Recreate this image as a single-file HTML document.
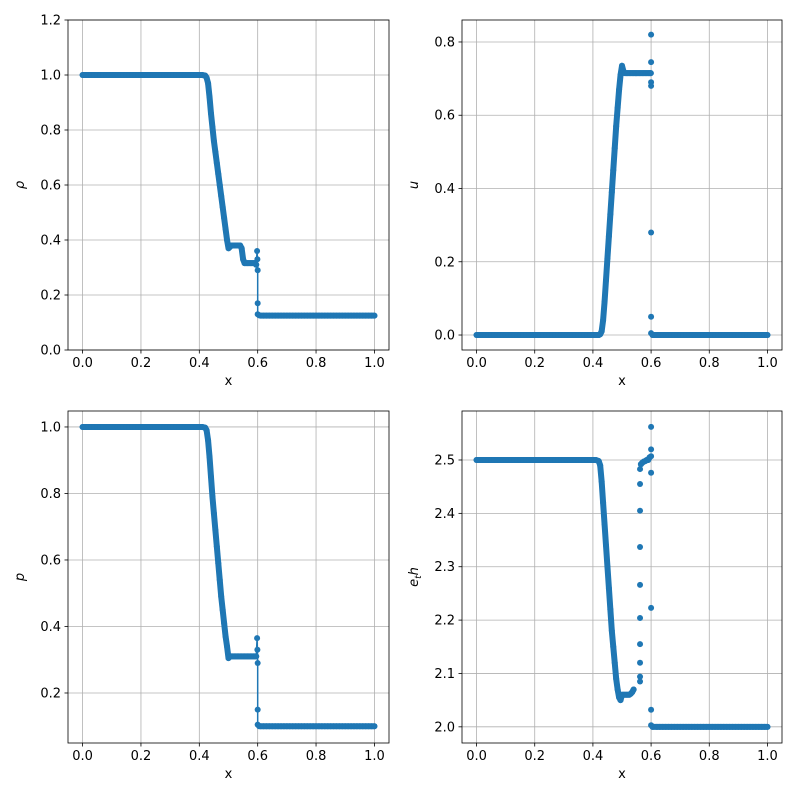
<!DOCTYPE html>
<html><head><meta charset="utf-8">
<style>
body{margin:0;background:#fff;}
svg text{font-family:"DejaVu Sans","Liberation Sans",sans-serif;font-size:13px;fill:#000;}
</style></head>
<body>
<svg id="fig" width="800" height="800" xmlns="http://www.w3.org/2000/svg"></svg>
<script>
// ---- data ----
const rhoX=[0,0.01,0.02,0.03,0.04,0.05,0.06,0.07,0.08,0.09,0.1,0.11,0.12,0.13,0.14,0.15,0.16,0.17,0.18,0.19,0.2,0.21,0.22,0.23,0.24,0.25,0.26,0.27,0.28,0.29,0.3,0.31,0.32,0.33,0.34,0.35,0.36,0.37,0.38,0.39,0.4,0.41,0.42,0.425,0.43,0.435,0.44,0.445,0.45,0.455,0.46,0.465,0.47,0.475,0.48,0.485,0.49,0.495,0.5,0.505,0.51,0.515,0.52,0.525,0.53,0.535,0.54,0.545,0.55,0.555,0.56,0.565,0.57,0.575,0.58,0.585,0.59,0.595,0.598,0.599,0.6,0.6,0.6,0.605,0.61,0.62,0.63,0.64,0.65,0.66,0.67,0.68,0.69,0.7,0.71,0.72,0.73,0.74,0.75,0.76,0.77,0.78,0.79,0.8,0.81,0.82,0.83,0.84,0.85,0.86,0.87,0.88,0.89,0.9,0.91,0.92,0.93,0.94,0.95,0.96,0.97,0.98,0.99,1.0];
const rhoY=[1,1,1,1,1,1,1,1,1,1,1,1,1,1,1,1,1,1,1,1,1,1,1,1,1,1,1,1,1,1,1,1,1,1,1,1,1,1,1,1,1,1,0.998,0.99,0.97,0.92,0.86,0.81,0.76,0.72,0.68,0.64,0.60,0.56,0.52,0.48,0.44,0.40,0.37,0.375,0.38,0.38,0.38,0.38,0.38,0.38,0.38,0.37,0.33,0.316,0.316,0.316,0.316,0.316,0.316,0.316,0.316,0.31,0.36,0.33,0.29,0.17,0.13,0.126,0.125,0.125,0.125,0.125,0.125,0.125,0.125,0.125,0.125,0.125,0.125,0.125,0.125,0.125,0.125,0.125,0.125,0.125,0.125,0.125,0.125,0.125,0.125,0.125,0.125,0.125,0.125,0.125,0.125,0.125,0.125,0.125,0.125,0.125,0.125,0.125,0.125,0.125,0.125,0.125];
const uX=rhoX.slice(0,81).concat([0.6,0.6,0.6,0.6,0.6,0.6,0.605]).concat(rhoX.slice(85));
const uY=[0,0,0,0,0,0,0,0,0,0,0,0,0,0,0,0,0,0,0,0,0,0,0,0,0,0,0,0,0,0,0,0,0,0,0,0,0,0,0,0,0,0,0,0.002,0.01,0.04,0.09,0.15,0.21,0.27,0.33,0.39,0.45,0.51,0.57,0.62,0.67,0.71,0.735,0.72,0.715,0.715,0.715,0.715,0.715,0.715,0.715,0.715,0.715,0.715,0.715,0.715,0.715,0.715,0.715,0.715,0.715,0.715,0.715,0.715,0.82,0.745,0.69,0.68,0.28,0.05,0.005,0,0,0,0,0,0,0,0,0,0,0,0,0,0,0,0,0,0,0,0,0,0,0,0,0,0,0,0,0,0,0,0,0,0,0,0,0,0,0,0];
const pX=rhoX;
const pY=[1,1,1,1,1,1,1,1,1,1,1,1,1,1,1,1,1,1,1,1,1,1,1,1,1,1,1,1,1,1,1,1,1,1,1,1,1,1,1,1,1,1,0.998,0.99,0.96,0.91,0.85,0.79,0.74,0.69,0.64,0.59,0.54,0.49,0.45,0.41,0.37,0.34,0.305,0.31,0.31,0.31,0.31,0.31,0.31,0.31,0.31,0.31,0.31,0.31,0.31,0.31,0.31,0.31,0.31,0.31,0.31,0.31,0.365,0.33,0.29,0.15,0.105,0.1,0.1,0.1,0.1,0.1,0.1,0.1,0.1,0.1,0.1,0.1,0.1,0.1,0.1,0.1,0.1,0.1,0.1,0.1,0.1,0.1,0.1,0.1,0.1,0.1,0.1,0.1,0.1,0.1,0.1,0.1,0.1,0.1,0.1,0.1,0.1,0.1,0.1,0.1,0.1,0.1];
const eX=rhoX.slice(0,67).concat([0.562,0.562,0.562,0.562,0.562,0.562,0.562,0.562,0.562,0.562,0.565,0.57,0.575,0.58,0.585,0.59,0.595,0.6,0.6,0.6,0.6,0.6,0.6,0.6,0.605]).concat(rhoX.slice(85));
const eY=[2.5,2.5,2.5,2.5,2.5,2.5,2.5,2.5,2.5,2.5,2.5,2.5,2.5,2.5,2.5,2.5,2.5,2.5,2.5,2.5,2.5,2.5,2.5,2.5,2.5,2.5,2.5,2.5,2.5,2.5,2.5,2.5,2.5,2.5,2.5,2.5,2.5,2.5,2.5,2.5,2.5,2.5,2.498,2.49,2.46,2.42,2.38,2.34,2.3,2.26,2.22,2.18,2.15,2.12,2.09,2.07,2.055,2.05,2.06,2.06,2.06,2.06,2.06,2.06,2.062,2.065,2.07,2.085,2.094,2.12,2.155,2.204,2.266,2.337,2.405,2.455,2.483,2.492,2.495,2.497,2.498,2.5,2.5,2.505,2.562,2.52,2.507,2.476,2.223,2.032,2.003,2.0,2,2,2,2,2,2,2,2,2,2,2,2,2,2,2,2,2,2,2,2,2,2,2,2,2,2,2,2,2,2,2,2,2,2,2,2,2,2,2];
const xTicks=[0,0.2,0.4,0.6,0.8,1.0];
const rhoTicks=[0,0.2,0.4,0.6,0.8,1.0,1.2];
const uTicks=[0,0.2,0.4,0.6,0.8];
const pTicks=[0.2,0.4,0.6,0.8,1.0];
const eTicks=[2.0,2.1,2.2,2.3,2.4,2.5];

const NS="http://www.w3.org/2000/svg";
const svg=document.getElementById('fig');
function mk(tag,attrs,parent){const e=document.createElementNS(NS,tag);for(const k in attrs)e.setAttribute(k,attrs[k]);(parent||svg).appendChild(e);return e;}

// thickRanges: index ranges [a,b] where points are dense (drawn as a solid band)
function panel(name,box,ydom,yticks,dec,xs,ys,ylabel,thinLine,thickRanges){
  const [L,T,R,B]=box;
  const g=mk('g',{});
  
  
  const sx=v=>L+(v+0.05)/1.1*(R-L);
  const sy=v=>B-(v-ydom[0])/(ydom[1]-ydom[0])*(B-T);
  xTicks.forEach(t=>{const l=mk('line',{x1:sx(t),x2:sx(t),y1:T,y2:B,stroke:'#b0b0b0','stroke-width':0.8},g);
    });
  yticks.forEach(t=>{const l=mk('line',{x1:L,x2:R,y1:sy(t),y2:sy(t),stroke:'#b0b0b0','stroke-width':0.8},g);
    });
  const pathOf=(a,b)=>{let d='';for(let i=a;i<=b;i++){d+=(i>a?'L':'M')+sx(xs[i]).toFixed(2)+','+sy(ys[i]).toFixed(2);}return d;};
  if(thinLine){
    const pl=mk('path',{d:pathOf(0,xs.length-1),fill:'none',stroke:'#1f77b4','stroke-width':1.5},g);
    
  }
  thickRanges.forEach(r=>{
    const pl=mk('path',{d:pathOf(r[0],r[1]),fill:'none',stroke:'#1f77b4','stroke-width':6,'stroke-linejoin':'round','stroke-linecap':'round'},g);
    
  });
  for(let i=0;i<xs.length;i++){
    const c=mk('circle',{cx:sx(xs[i]),cy:sy(ys[i]),r:3,fill:'#1f77b4'},g);
    
    
  }
  const fr=mk('rect',{x:L,y:T,width:R-L,height:B-T,fill:'none',stroke:'#000','stroke-width':0.8},g);
  
  xTicks.forEach(t=>{mk('line',{x1:sx(t),x2:sx(t),y1:B,y2:B+3.5,stroke:'#000','stroke-width':0.8},g);
    const tx=mk('text',{x:sx(t),y:B+17,'text-anchor':'middle'},g);tx.textContent=t.toFixed(1);
    });
  yticks.forEach(t=>{mk('line',{x1:L-3.5,x2:L,y1:sy(t),y2:sy(t),stroke:'#000','stroke-width':0.8},g);
    const tx=mk('text',{x:L-7,y:sy(t)+4.5,'text-anchor':'end'},g);tx.textContent=t.toFixed(1);
    });
  const xl=mk('text',{x:(L+R)/2,y:B+35,'text-anchor':'middle'},g);xl.textContent='x';
  
  const yx=L-dec;
  const yl=mk('text',{x:yx,y:(T+B)/2,'text-anchor':'middle',transform:`rotate(-90 ${yx} ${(T+B)/2})`,'font-style':'italic'},g);
  yl.innerHTML=ylabel;
  
}
panel('density',[68,20,389,350],[0,1.2],rhoTicks,44,rhoX,rhoY,'ρ',true,[[0,77],[84,rhoX.length-1]]);
panel('velocity',[462,20,782,350],[-0.0409,0.86],uTicks,44,uX,uY,'u',false,[[0,79],[87,uX.length-1]]);
panel('pressure',[68,411,389,743],[0.0496,1.048],pTicks,44,pX,pY,'p',true,[[0,77],[84,pX.length-1]]);
panel('energy',[462,411,782,743],[1.9697,2.5918],eTicks,44,eX,eY,'e<tspan font-size="9" dy="3">t</tspan><tspan dy="-3">h</tspan>',false,[[0,66],[77,83],[91,eX.length-1]]);
</script>
</body></html>
